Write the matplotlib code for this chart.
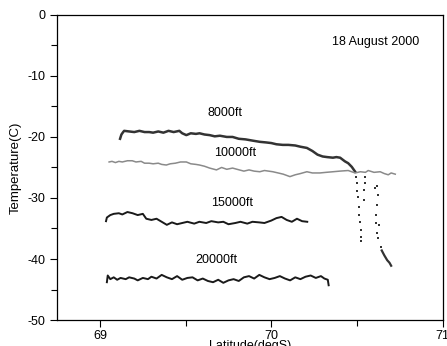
import matplotlib
matplotlib.use("Agg")
import matplotlib.pyplot as plt
from matplotlib.ticker import MultipleLocator

plt.rcParams["font.family"] = ["Liberation Sans", "DejaVu Sans"]
plt.rcParams["axes.unicode_minus"] = False

# 8000 ft leg (solid part)
lat_8000 = [69.117, 69.125, 69.135, 69.141, 69.17, 69.20, 69.23, 69.26, 69.287, 69.31,
            69.34, 69.37, 69.40, 69.43, 69.463, 69.48, 69.504, 69.53, 69.56, 69.581,
            69.61, 69.64, 69.67, 69.70, 69.74, 69.774, 69.81, 69.85, 69.89, 69.933,
            69.97, 70.00, 70.03, 70.067, 70.10, 70.14, 70.17, 70.208, 70.24, 70.27,
            70.30, 70.326, 70.36, 70.38, 70.402, 70.43, 70.449, 70.47, 70.49]
temp_8000 = [-20.3, -19.6, -19.2, -19.0, -19.1, -19.2, -19.0, -19.2, -19.2, -19.3,
             -19.1, -19.3, -19.0, -19.2, -19.0, -19.4, -19.7, -19.4, -19.5, -19.4,
             -19.6, -19.7, -19.9, -19.8, -20.0, -20.0, -20.3, -20.4, -20.6, -20.8,
             -20.9, -21.0, -21.2, -21.3, -21.3, -21.4, -21.6, -21.8, -22.3, -22.9,
             -23.2, -23.3, -23.4, -23.3, -23.4, -24.0, -24.3, -24.9, -25.7]

# descent profiles (dotted points) and final solid tail
dive_lat = [70.496, 70.500, 70.503, 70.506, 70.510, 70.514, 70.518, 70.521, 70.525, 70.525,
            70.548, 70.546, 70.544, 70.543,
            70.607, 70.620, 70.625, 70.620, 70.610, 70.610, 70.630, 70.615, 70.625, 70.640]
dive_temp = [-26.5, -27.5, -28.8, -29.8, -31.5, -32.8, -34.0, -35.3, -36.4, -37.0,
             -26.6, -27.6, -28.7, -30.3,
             -28.4, -28.0, -29.5, -31.1, -32.8, -34.1, -34.4, -35.7, -36.6, -38.0]
tail_lat = [70.645, 70.66, 70.677, 70.69, 70.70]
tail_temp = [-38.6, -39.4, -40.2, -40.6, -41.1]

lat_10000 = [69.053, 69.07, 69.09, 69.11, 69.13, 69.16, 69.188, 69.21, 69.24, 69.26,
             69.287, 69.31, 69.34, 69.36, 69.387, 69.41, 69.44, 69.47, 69.504, 69.53,
             69.56, 69.581, 69.61, 69.64, 69.68, 69.71, 69.74, 69.774, 69.80, 69.84,
             69.87, 69.90, 69.933, 69.96, 70.009, 70.04, 70.07, 70.109, 70.14, 70.17,
             70.208, 70.24, 70.284, 70.32, 70.361, 70.40, 70.449, 70.49, 70.52, 70.55,
             70.566, 70.60, 70.636, 70.66, 70.683, 70.70, 70.724]
temp_10000 = [-24.1, -24.0, -24.2, -24.0, -24.1, -23.9, -23.9, -24.1, -24.0, -24.3,
              -24.3, -24.4, -24.3, -24.5, -24.6, -24.4, -24.3, -24.1, -24.1, -24.4,
              -24.5, -24.6, -24.8, -25.1, -25.4, -25.0, -25.3, -25.1, -25.3, -25.6,
              -25.4, -25.6, -25.7, -25.5, -25.7, -25.9, -26.1, -26.5, -26.2, -26.0,
              -25.7, -25.9, -25.9, -25.8, -25.7, -25.6, -25.5, -25.9, -25.7, -25.8,
              -25.5, -25.8, -25.7, -26.0, -26.2, -25.9, -26.1]

lat_15000 = [69.035, 69.04, 69.06, 69.08, 69.11, 69.13, 69.16, 69.19, 69.22, 69.25,
             69.27, 69.30, 69.33, 69.36, 69.39, 69.42, 69.45, 69.48, 69.51, 69.55,
             69.58, 69.62, 69.65, 69.69, 69.72, 69.75, 69.79, 69.82, 69.86, 69.89,
             69.93, 69.96, 70.00, 70.03, 70.06, 70.09, 70.12, 70.15, 70.18, 70.21]
temp_15000 = [-33.8, -33.2, -32.8, -32.6, -32.5, -32.7, -32.3, -32.5, -32.8, -32.6,
              -33.4, -33.6, -33.4, -33.9, -34.4, -34.0, -34.3, -34.1, -33.9, -34.2,
              -33.9, -34.1, -33.8, -34.0, -33.9, -34.3, -34.1, -33.9, -34.2, -33.9,
              -34.0, -34.1, -33.7, -33.3, -33.1, -33.6, -33.9, -33.4, -33.8, -33.9]

lat_20000 = [69.04, 69.045, 69.06, 69.08, 69.10, 69.12, 69.15, 69.17, 69.20, 69.22,
             69.25, 69.28, 69.30, 69.33, 69.36, 69.39, 69.42, 69.45, 69.48, 69.51,
             69.54, 69.57, 69.60, 69.63, 69.66, 69.69, 69.72, 69.75, 69.78, 69.81,
             69.84, 69.87, 69.90, 69.93, 69.96, 69.99, 70.02, 70.05, 70.08, 70.11,
             70.14, 70.17, 70.20, 70.23, 70.26, 70.29, 70.31, 70.33, 70.335]
temp_20000 = [-43.8, -42.7, -43.3, -43.0, -43.4, -43.1, -43.3, -43.0, -43.2, -43.5,
              -43.1, -43.3, -42.9, -43.2, -42.6, -43.0, -43.3, -42.8, -43.4, -43.1,
              -43.0, -43.5, -43.2, -43.6, -43.8, -43.4, -43.9, -43.5, -43.3, -43.6,
              -43.0, -42.8, -43.2, -42.6, -43.0, -43.3, -43.1, -42.8, -43.2, -43.5,
              -43.0, -43.3, -42.9, -42.7, -43.1, -42.8, -43.2, -43.4, -44.3]

labels = ["8000ft", "10000ft", "15000ft", "20000ft"]
label_lat = [69.73, 69.79, 69.77, 69.68]
label_temp = [-16.0, -22.6, -30.8, -40.2]


def main():
    fig = plt.figure(figsize=(4.47, 3.46), dpi=100)
    ax = fig.add_axes([0.128, 0.075, 0.862, 0.882])

    ax.plot(lat_8000, temp_8000, color="#333333", lw=1.8)
    ax.plot(lat_10000, temp_10000, color="#8a8a8a", lw=1.1)
    ax.plot(lat_15000, temp_15000, color="#1a1a1a", lw=1.4)
    ax.plot(lat_20000, temp_20000, color="#1a1a1a", lw=1.4)
    ax.scatter(dive_lat, dive_temp, s=4, color="#333333", marker="s", lw=0)
    ax.plot(tail_lat, tail_temp, color="#333333", lw=1.6)

    for txt, x, y in zip(labels, label_lat, label_temp):
        ax.text(x, y, txt, fontsize=9, ha="center", va="center")
    ax.text(70.61, -4.4, "18 August 2000", fontsize=9, ha="center", va="center")

    ax.set_xlim(68.75, 71)
    ax.set_ylim(-50, 0)
    ax.xaxis.set_major_locator(MultipleLocator(1))
    ax.xaxis.set_minor_locator(MultipleLocator(0.5))
    ax.yaxis.set_major_locator(MultipleLocator(10))
    ax.yaxis.set_minor_locator(MultipleLocator(5))
    ax.tick_params(which="both", direction="out", labelsize=9, width=0.8)
    ax.tick_params(which="major", length=5)
    ax.tick_params(which="minor", length=4)
    ax.tick_params(axis="x", pad=2)
    for s in ax.spines.values():
        s.set_linewidth(0.9)

    ax.set_xlabel("Latitude(degS)", fontsize=9, labelpad=-1)
    ax.set_ylabel("Temperature(C)", fontsize=9.5, labelpad=4)

    fig.savefig("out.png", dpi=100)
    plt.close(fig)


if __name__ == "__main__":
    main()
